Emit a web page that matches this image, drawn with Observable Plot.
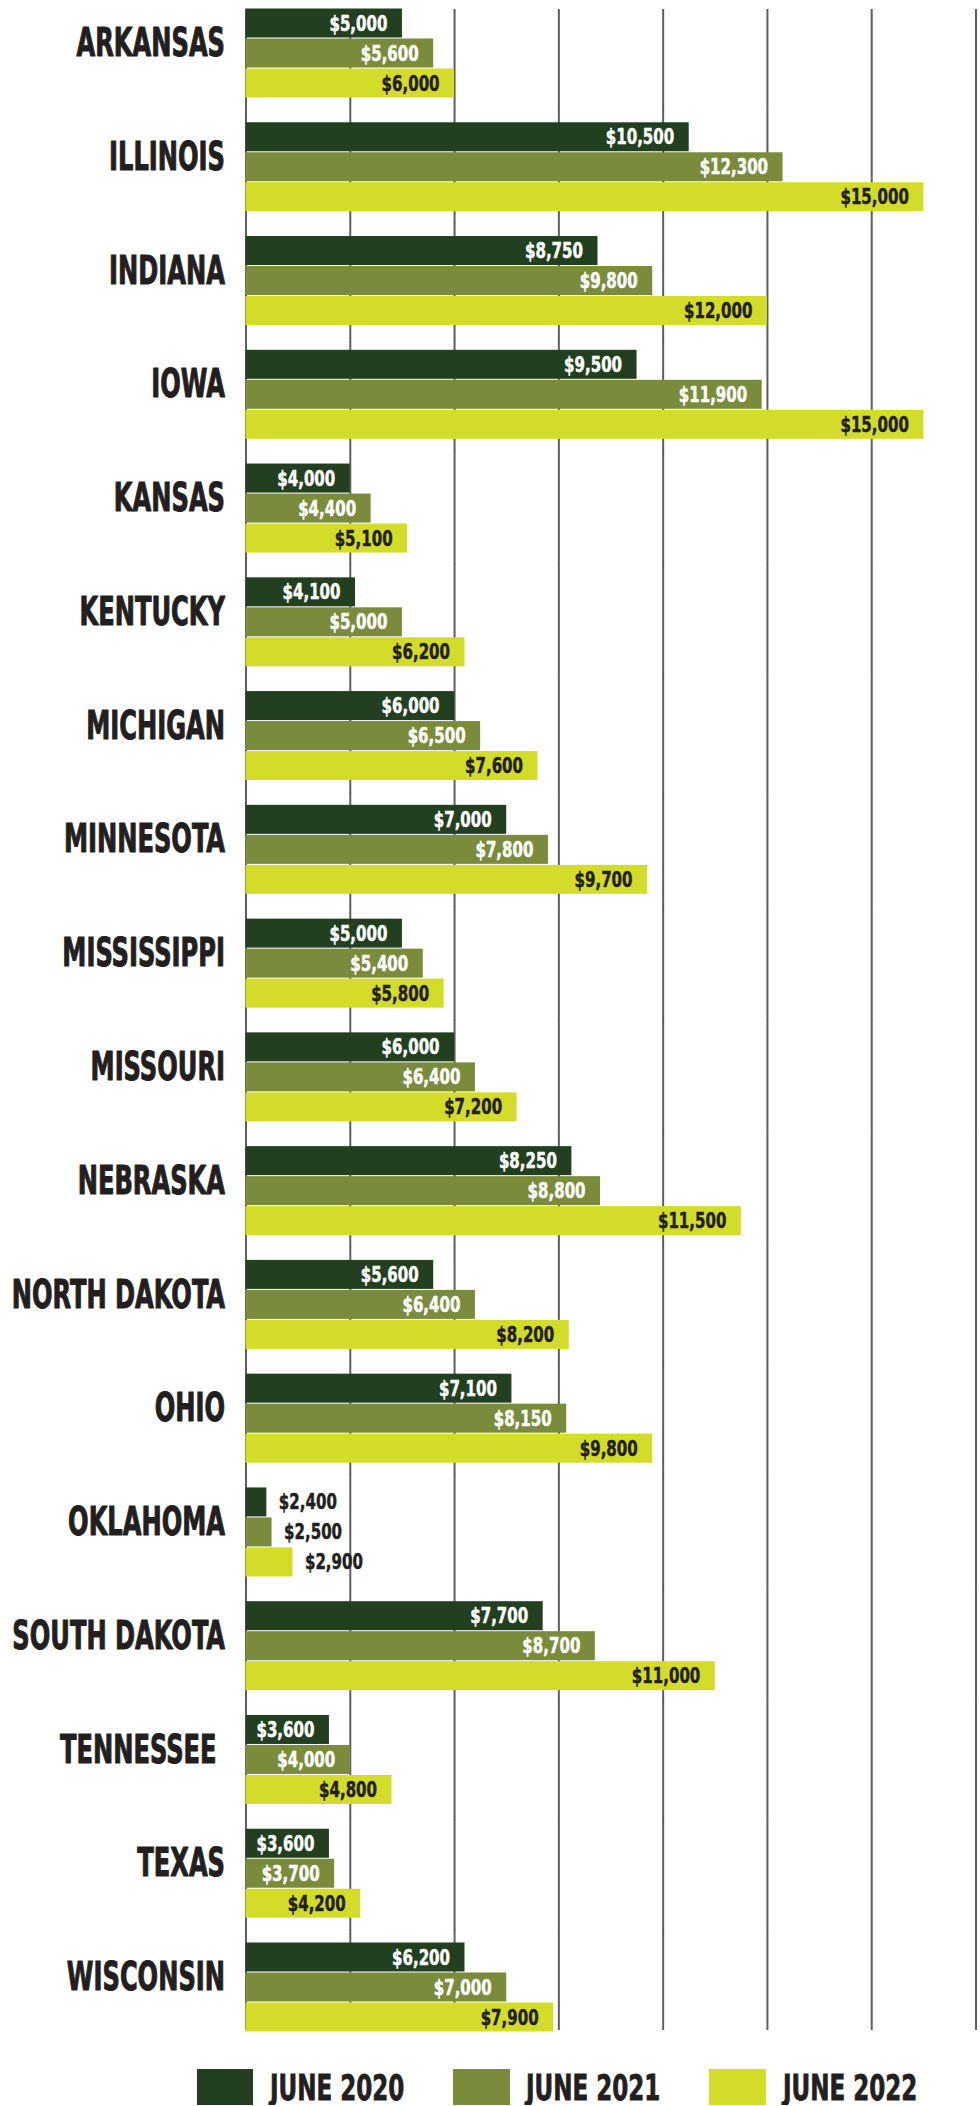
<!DOCTYPE html>
<html>
<head>
<meta charset="utf-8">
<script src="https://cdn.jsdelivr.net/npm/d3@7"></script>
<script src="https://cdn.jsdelivr.net/npm/@observablehq/plot@0.6"></script>
<style>
  html, body { margin: 0; padding: 0; background: #fff; overflow: hidden; }
  #chart svg text { font-stretch: condensed; }
  .legend { display: flex; height: 36px; margin-top: 29.3px; padding-left: 196.7px; overflow: visible; }
  .item { flex: none; width: 256.3px; display: flex; align-items: flex-start; }
  .sw { flex: none; width: 56.6px; height: 56px; }
  .lt { font-family: "DejaVu Sans Condensed", "DejaVu Sans", sans-serif; font-weight: 700; font-stretch: condensed;
        font-size: 35px; line-height: 0.75; color: #231f20; margin-left: 16.7px; margin-top: 6px;
        -webkit-text-stroke: 0.8px #231f20;
        transform: scaleX(0.73); transform-origin: left top; white-space: nowrap; }
</style>
</head>
<body>
<div id="chart"></div>
<div class="legend" id="legend"></div>
<script>
// ---- data ----
const states = ["ARKANSAS", "ILLINOIS", "INDIANA", "IOWA", "KANSAS", "KENTUCKY", "MICHIGAN", "MINNESOTA",
  "MISSISSIPPI", "MISSOURI", "NEBRASKA", "NORTH DAKOTA", "OHIO", "OKLAHOMA", "SOUTH DAKOTA", "TENNESSEE ",
  "TEXAS", "WISCONSIN"];
const seriesNames = ["JUNE 2020", "JUNE 2021", "JUNE 2022"];
const june2020 = [5000, 10500, 8750, 9500, 4000, 4100, 6000, 7000, 5000, 6000, 8250, 5600, 7100, 2400, 7700, 3600, 3600, 6200];
const june2021 = [5600, 12300, 9800, 11900, 4400, 5000, 6500, 7800, 5400, 6400, 8800, 6400, 8150, 2500, 8700, 4000, 3700, 7000];
const june2022 = [6000, 15000, 12000, 15000, 5100, 6200, 7600, 9700, 5800, 7200, 11500, 8200, 9800, 2900, 11000, 4800, 4200, 7900];
const gridTicks = [2000, 4000, 6000, 8000, 10000, 12000, 14000, 16000];
const xDomain = [2000, 16000];
const seriesColors = ["#22401f", "#7a8c3b", "#d3dc28"];
const DARK = "#231f20";
const GRID = "#5e5e5e";
const FONT = '"DejaVu Sans Condensed", "DejaVu Sans", sans-serif';
const outsideBelow = 3000; // short bars get their label outside

// ---- tables built from the arrays ----
const seriesValues = [june2020, june2021, june2022];
const data = states.flatMap((s, i) => seriesNames.map((n, k) => ({state: s, series: n, value: seriesValues[k][i]})));
const gridData = states.flatMap(s => gridTicks.map(t => ({state: s, tick: t})));
const first = states[0], last = states[states.length - 1];
const fmt = d3.format("$,");

const gridStyle = {x: "tick", fy: "state", stroke: GRID, strokeWidth: 2};
const valueStyle = {x: "value", y: "series", fy: "state", text: d => fmt(d.value), fontSize: 22, fontWeight: "bold", strokeWidth: 0.5};

const chart = Plot.plot({
  width: 980,
  height: 2040,
  marginLeft: 245.5,
  marginRight: 4.5,
  marginTop: 7.3,
  marginBottom: 7.7,
  style: {fontFamily: FONT, background: "#fff", overflow: "visible"},
  x: {domain: xDomain, axis: null},
  y: {domain: seriesNames, padding: 0, axis: null},
  fy: {domain: states, paddingInner: 0.2, paddingOuter: 0, axis: null, round: false},
  color: {domain: seriesNames, range: seriesColors},
  marks: [
    Plot.ruleX(gridData.filter(d => d.state !== first && d.state !== last), {...gridStyle, insetTop: -11.6, insetBottom: -11.6}),
    Plot.ruleX(gridData.filter(d => d.state === first), {...gridStyle, insetTop: 1.7, insetBottom: -11.6}),
    Plot.ruleX(gridData.filter(d => d.state === last), {...gridStyle, insetTop: -11.6, insetBottom: 2.3}),
    Plot.barX(data, {x1: () => xDomain[0], x2: "value", y: "series", fy: "state", fill: "series", insetTop: 0.5, insetBottom: 0.5}),
    Plot.text(data.filter(d => d.value >= outsideBelow && d.series !== seriesNames[2]),
      {...valueStyle, textAnchor: "end", dx: -15, fill: "#fff", stroke: "#fff"}),
    Plot.text(data.filter(d => d.value >= outsideBelow && d.series === seriesNames[2]),
      {...valueStyle, textAnchor: "end", dx: -15, fill: DARK, stroke: DARK}),
    Plot.text(data.filter(d => d.value < outsideBelow),
      {...valueStyle, textAnchor: "start", dx: 12, fill: DARK, stroke: DARK}),
    Plot.text(states, {fy: d => d, text: d => d, frameAnchor: "left", textAnchor: "end", dx: -21, dy: -9.5,
       fill: DARK, stroke: DARK, strokeWidth: 1, fontSize: 38.4, fontWeight: "bold"})
  ]
});
document.getElementById("chart").appendChild(chart);

// condense the heavy sans horizontally around each label's anchor, like the poster's compressed typeface
chart.querySelectorAll("text").forEach(t => {
  const s = t.textContent.startsWith("$") ? 0.76 : 0.7;
  const tr = t.getAttribute("transform") || "";
  t.setAttribute("transform", `${tr} scale(${s},1)`);
});

// legend
const legend = document.getElementById("legend");
seriesNames.forEach((n, k) => {
  const item = document.createElement("div");
  item.className = "item";
  const sw = document.createElement("div");
  sw.className = "sw";
  sw.style.background = seriesColors[k];
  const lt = document.createElement("span");
  lt.className = "lt";
  lt.textContent = n;
  item.appendChild(sw); item.appendChild(lt);
  legend.appendChild(item);
});
</script>
</body>
</html>
